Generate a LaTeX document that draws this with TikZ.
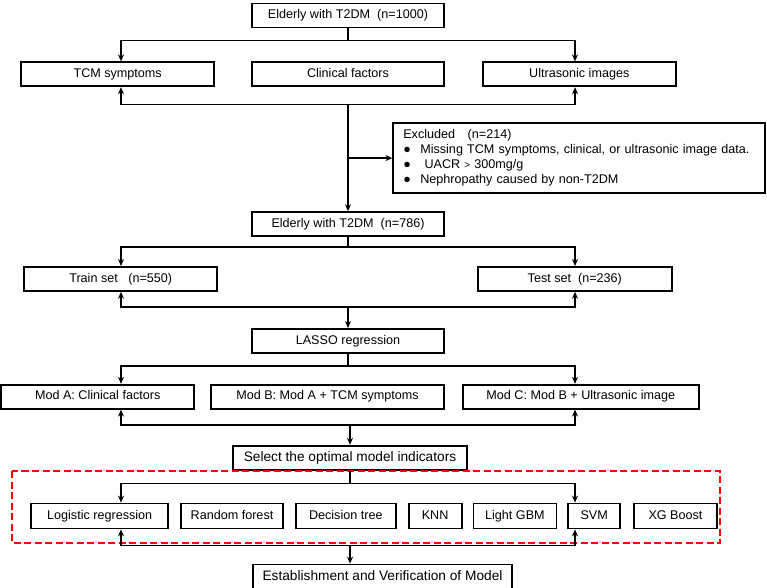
\documentclass[tikz,border=0pt]{standalone}
\usepackage{fontspec}
\setmainfont{Liberation Sans}
\usetikzlibrary{shapes,arrows,arrows.meta,positioning}

\begin{document}
\begin{tikzpicture}[
    plainbox/.style={rectangle, draw, line width=1.8pt, inner sep=2pt, font=\fontsize{12.6}{15}\selectfont},
    box/.style={plainbox, minimum height=24pt, text height=9pt, text depth=2.7pt},
    bigbox/.style={box, font=\fontsize{13.7}{16}\selectfont, text height=10pt, text depth=3pt},
    mlbox/.style={box, minimum height=25pt},
    line/.style={line width=1.4pt},
    arrow/.style={-{Stealth[length=7pt, width=6pt]}, line width=1.4pt},
    redframe/.style={draw=red, line width=1.6pt, dash pattern=on 7pt off 3.5pt}]

    \useasboundingbox (0,0) rectangle (767pt,-587pt);
    \coordinate (colL) at (121pt,0);
    \coordinate (colR) at (575pt,0);

    \node[box, minimum width=192pt] (top) at (348pt,-15.5pt) {Elderly with T2DM\ \ (n=1000)};
    \node[box, minimum width=192pt, below=33pt of top] (clin) {Clinical factors};
    \node[box, minimum width=193pt, left=36pt of clin] (tcm) {TCM symptoms};
    \node[box, minimum width=193pt, right=37pt of clin] (ultra) {Ultrasonic images};
    \node[plainbox, text width=352pt, inner xsep=10pt, minimum height=70pt, align=left, below=35pt of ultra] (excl) {Excluded\ \ \ (n=214)\\
        \makebox[17pt][l]{●}Missing TCM symptoms, clinical, or ultrasonic image data.\\
        \makebox[17pt][l]{●}\ UACR {\fontsize{10}{15}\selectfont>} 300mg/g\\
        \makebox[17pt][l]{●}Nephropathy caused by non-T2DM};

    \node[box, minimum width=192pt, below=124pt of clin] (n786) {Elderly with T2DM\ \ (n=786)};
    \node[box, minimum width=193pt, below left=29pt and 33pt of n786] (train) {Train set\ \ \ (n=550)};
    \node[box, minimum width=194pt, below right=29pt and 32pt of n786] (test) {Test set\ \ (n=236)};
    \node[box, minimum width=192pt, below=91pt of n786] (lasso) {LASSO regression};

    \node[box, minimum width=233pt, below=30pt of lasso, xshift=-20.5pt] (modb) {Mod B: Mod A + TCM symptoms};
    \node[box, minimum width=193pt, left=15pt of modb] (moda) {Mod A: Clinical factors};
    \node[box, minimum width=236pt, right=17pt of modb] (modc) {Mod C: Mod B + Ultrasonic image};
    \node[bigbox, minimum width=234pt, below=91pt of lasso, xshift=2pt] (select) {Select the optimal model indicators};

    % candidate models
    \node[mlbox, minimum width=137pt, below left=32pt and 63pt of select] (logit) {Logistic regression};
    \node[mlbox, minimum width=102pt, right=11pt of logit] (rf) {Random forest};
    \node[mlbox, minimum width=100pt, right=11pt of rf] (dt) {Decision tree};
    \node[mlbox, minimum width=53pt, right=11pt of dt] (knn) {KNN};
    \node[mlbox, minimum width=83pt, right=10pt of knn] (lgbm) {Light GBM};
    \node[mlbox, minimum width=52pt, right=10pt of lgbm] (svm) {SVM};
    \node[mlbox, minimum width=83pt, right=12pt of svm] (xgb) {XG Boost};
    \node[bigbox, minimum width=259pt, below=93pt of select, xshift=32.5pt] (estab) {Establishment and Verification of Model};

    \draw[redframe] (12pt,-471pt) rectangle (720pt,-543pt);

    % data sources
    \path (top.south) ++(0,-12pt) coordinate (fork1);
    \draw[line] (top.south) -- (fork1);
    \draw[arrow] (fork1) -| (colL |- tcm.north);
    \draw[arrow] (fork1) -| (colR |- ultra.north);
    \path (clin.south) ++(0,-17pt) coordinate (join1);
    \draw[arrow] (join1) -| (colL |- tcm.south);
    \draw[arrow] (join1) -| (colR |- ultra.south);
    \draw[arrow] (join1) -- (n786.north);
    \draw[arrow] (join1 |- excl.west) -- (excl.west);

    % split
    \path (n786.south) ++(0,-10pt) coordinate (fork2);
    \draw[line] (n786.south) -- (fork2);
    \draw[arrow] (fork2) -| (colL |- train.north);
    \draw[arrow] (fork2) -| (colR |- test.north);
    \path (lasso.north) ++(0,21pt) coordinate (join2);
    \draw[arrow] (join2) -| (colL |- train.south);
    \draw[arrow] (join2) -| (colR |- test.south);
    \draw[arrow] (join2) -- (lasso.north);

    % models
    \path (lasso.south) ++(0,-12pt) coordinate (fork3);
    \draw[line] (lasso.south) -- (fork3);
    \draw[arrow] (fork3) -| (colL |- moda.north);
    \draw[arrow] (fork3) -| (colR |- modc.north);
    \path (select.north) ++(0,20pt) coordinate (join3);
    \draw[arrow] (join3) -| (colL |- moda.south);
    \draw[arrow] (join3) -| (colR |- modc.south);
    \draw[arrow] (join3) -- (select.north);

    % machine learning
    \path (select.south) ++(0,-13pt) coordinate (fork4);
    \draw[line] (select.south) -- (fork4);
    \draw[arrow] (fork4) -| (colL |- logit.north);
    \draw[arrow] (fork4) -| (colR |- svm.north);
    \path (select.south) ++(0,-75pt) coordinate (join4);
    \draw[arrow] (join4) -| (colL |- logit.south);
    \draw[arrow] (join4) -| (colR |- svm.south);
    \draw[arrow] (join4) -- (join4 |- estab.north);
\end{tikzpicture}
\end{document}
